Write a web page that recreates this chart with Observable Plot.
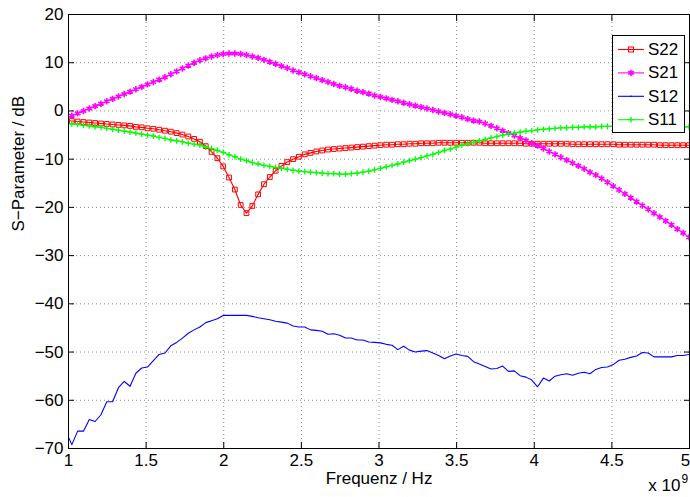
<!DOCTYPE html>
<html>
<head>
<meta charset="utf-8">
<script src="https://cdn.jsdelivr.net/npm/d3@7"></script>
<script src="https://cdn.jsdelivr.net/npm/@observablehq/plot@0.6"></script>
<style>
  html, body { margin: 0; padding: 0; background: #fff; }
  #wrap { position: relative; width: 690px; height: 497px; overflow: hidden;
          font-family: "Liberation Sans", Arial, Helvetica, sans-serif; }
  #legend { position: absolute; left: 612px; top: 35px; }
</style>
</head>
<body>
<div id="wrap"></div>
<script>
// Frequency sweep points (GHz; the axis is labelled in units of 10^9 Hz)
const freqGHz = [
  0.984,1.0215,1.059,1.0965,1.134,1.1715,1.209,1.2465,1.284,1.3215,
  1.359,1.3965,1.434,1.4715,1.509,1.5465,1.584,1.6215,1.659,1.6965,
  1.734,1.7715,1.809,1.8465,1.884,1.9215,1.959,1.9965,2.034,2.0715,
  2.109,2.1465,2.184,2.2215,2.259,2.2965,2.334,2.3715,2.409,2.4465,
  2.484,2.5215,2.559,2.5965,2.634,2.6715,2.709,2.7465,2.784,2.8215,
  2.859,2.8965,2.934,2.9715,3.009,3.0465,3.084,3.1215,3.159,3.1965,
  3.234,3.2715,3.309,3.3465,3.384,3.4215,3.459,3.4965,3.534,3.5715,
  3.609,3.6465,3.684,3.7215,3.759,3.7965,3.834,3.8715,3.909,3.9465,
  3.984,4.0215,4.059,4.0965,4.134,4.1715,4.209,4.2465,4.284,4.3215,
  4.359,4.3965,4.434,4.4715,4.509,4.5465,4.584,4.6215,4.659,4.6965,
  4.734,4.7715,4.809,4.8465,4.884,4.9215,4.959,4.9965,5.034
];

const s22 = [
  -2.0,-2.1,-2.2,-2.3,-2.4,-2.5,-2.6,-2.7,-2.8,-2.9,
  -3.0,-3.1,-3.3,-3.4,-3.6,-3.7,-3.9,-4.1,-4.3,-4.6,
  -4.9,-5.3,-5.8,-6.4,-7.3,-8.5,-9.8,-11.5,-13.8,-16.3,
  -19.5,-21.2,-19.7,-17.3,-15.2,-13.7,-12.4,-11.4,-10.6,-10.0,
  -9.5,-9.0,-8.7,-8.4,-8.2,-8.0,-7.9,-7.8,-7.7,-7.6,
  -7.5,-7.4,-7.3,-7.2,-7.1,-7.0,-7.0,-6.9,-6.9,-6.8,
  -6.8,-6.7,-6.7,-6.7,-6.6,-6.6,-6.6,-6.6,-6.6,-6.6,
  -6.6,-6.6,-6.7,-6.7,-6.7,-6.7,-6.7,-6.7,-6.7,-6.8,
  -6.8,-6.8,-6.8,-6.8,-6.8,-6.8,-6.8,-6.9,-6.9,-6.9,
  -6.9,-6.9,-6.9,-6.9,-6.9,-7.0,-7.0,-7.0,-7.0,-7.0,
  -7.0,-7.0,-7.1,-7.1,-7.1,-7.1,-7.1,-7.1,-7.1
];

const s21 = [
  -1.5,-1.0,-0.5,0.0,0.5,1.0,1.5,2.0,2.5,3.0,
  3.5,4.0,4.5,5.0,5.5,6.0,6.5,7.0,7.6,8.2,
  8.8,9.4,10.0,10.5,10.9,11.3,11.6,11.8,11.9,11.9,
  11.8,11.6,11.3,11.0,10.6,10.2,9.8,9.3,8.9,8.4,
  8.0,7.6,7.2,6.8,6.4,6.0,5.6,5.2,4.9,4.6,
  4.2,3.9,3.6,3.2,2.9,2.6,2.3,2.0,1.7,1.4,
  1.1,0.8,0.5,0.2,-0.1,-0.4,-0.7,-1.0,-1.3,-1.7,
  -2.0,-2.2,-2.6,-3.1,-3.6,-4.1,-4.6,-5.1,-5.6,-6.1,
  -6.7,-7.2,-7.8,-8.4,-9.0,-9.6,-10.2,-10.8,-11.4,-12.0,
  -12.7,-13.3,-14.0,-14.8,-15.6,-16.4,-17.2,-18.0,-18.8,-19.6,
  -20.4,-21.2,-22.0,-22.8,-23.6,-24.5,-25.3,-26.2,-27.0
];

const s12 = [
  -66.5,-69.2,-66.4,-66.4,-64.0,-64.4,-63.0,-60.3,-60.3,-57.4,
  -56.1,-57.1,-54.4,-53.3,-53.1,-51.8,-50.5,-50.2,-48.7,-48.0,
  -47.1,-46.1,-45.4,-44.8,-43.9,-43.5,-43.1,-42.4,-42.4,-42.4,
  -42.4,-42.4,-42.6,-42.9,-43.1,-43.3,-43.6,-43.8,-44.0,-44.6,
  -44.8,-44.8,-45.4,-45.5,-45.7,-46.3,-46.2,-46.5,-47.1,-47.1,
  -47.5,-47.5,-47.9,-48.0,-48.1,-48.4,-48.6,-49.5,-48.8,-49.6,
  -50.0,-49.8,-49.7,-50.2,-50.7,-51.4,-50.8,-50.4,-50.7,-50.9,
  -52.0,-52.5,-53.0,-53.5,-53.4,-52.9,-54.0,-53.9,-54.9,-55.2,
  -55.8,-57.2,-55.4,-56.0,-55.0,-54.7,-54.5,-54.8,-54.4,-54.2,
  -54.5,-53.6,-53.2,-53.1,-52.6,-51.7,-51.5,-51.1,-50.8,-50.1,
  -50.2,-51.0,-51.0,-51.0,-51.0,-50.7,-50.7,-50.5,-50.4
];

const s11 = [
  -2.5,-2.7,-2.8,-3.0,-3.1,-3.3,-3.4,-3.6,-3.8,-4.0,
  -4.2,-4.4,-4.6,-4.8,-5.0,-5.2,-5.5,-5.7,-6.0,-6.2,
  -6.4,-6.7,-6.9,-7.1,-7.5,-7.8,-8.2,-8.6,-9.1,-9.5,
  -10.0,-10.3,-10.7,-11.0,-11.3,-11.5,-11.7,-11.9,-12.1,-12.3,
  -12.5,-12.6,-12.7,-12.8,-12.9,-13.0,-13.0,-13.1,-13.1,-13.0,
  -12.9,-12.7,-12.5,-12.2,-11.9,-11.6,-11.3,-11.0,-10.6,-10.3,
  -10.0,-9.7,-9.3,-9.0,-8.6,-8.2,-7.9,-7.5,-7.1,-6.8,
  -6.5,-6.2,-5.9,-5.6,-5.3,-5.0,-4.8,-4.6,-4.4,-4.2,
  -4.1,-3.9,-3.8,-3.7,-3.6,-3.5,-3.5,-3.4,-3.4,-3.3,
  -3.3,-3.3,-3.2,-3.2,-3.2,-3.2,-3.2,-3.2,-3.2,-3.2,
  -3.2,-3.2,-3.2,-3.3,-3.3,-3.3,-3.3,-3.3,-3.3
];

const seriesNames = ["S22", "S21", "S12", "S11"];
const seriesColors = ["#ff0000", "#ff00ff", "#0000ff", "#00ff00"];
const seriesSymbols = ["square", "asterisk", null, "plus"];
const seriesValues = [s22, s21, s12, s11];

const xTicks = [1, 1.5, 2, 2.5, 3, 3.5, 4, 4.5, 5];
const yTicks = [-70, -60, -50, -40, -30, -20, -10, 0, 10, 20];
const xLabel = "Frequenz / Hz";
const yLabel = "S\u2212Parameter / dB";
const xExponentBase = "x 10";
const xExponent = "9";

const fmtY = d => (d < 0 ? "\u2212" + Math.abs(d) : String(d));

const seriesMarks = seriesNames.flatMap((name, s) => {
  const data = freqGHz.map((f, i) => ({f, v: seriesValues[s][i]}));
  const marks = [Plot.line(data, {x: "f", y: "v", stroke: seriesColors[s], strokeWidth: 1.1, clip: true})];
  const sym = seriesSymbols[s];
  if (sym === "square") marks.push(Plot.dot(data, {x: "f", y: "v", symbol: "square", r: 2.7, fill: "none", stroke: seriesColors[s], strokeWidth: 1, clip: true}));
  else if (sym === "asterisk") marks.push(Plot.dot(data, {x: "f", y: "v", symbol: "asterisk", r: 3, stroke: seriesColors[s], strokeWidth: 1.6, clip: true}));
  else if (sym === "plus") marks.push(Plot.dot(data, {x: "f", y: "v", symbol: "plus", r: 2.0, stroke: seriesColors[s], strokeWidth: 1.3, clip: true}));
  return marks;
});

const gridStyle = {stroke: "#000", strokeOpacity: 0.45, strokeDasharray: "1,3"};
const xTicksInner = xTicks.slice(0, -1);
const xTickLast = xTicks.slice(-1);

const plot = Plot.plot({
  width: 690,
  height: 497,
  marginLeft: 68,
  marginRight: 1,
  marginTop: 14,
  marginBottom: 49,
  x: {domain: [1, 5]},
  y: {domain: [-70, 20]},
  style: {fontFamily: "'Liberation Sans', Arial, Helvetica, sans-serif", fontSize: "17px", color: "#000", background: "#fff"},
  marks: [
    Plot.gridX(xTicks, gridStyle),
    Plot.gridY(yTicks, gridStyle),
    ...seriesMarks,
    Plot.frame({stroke: "#000", strokeWidth: 1}),
    Plot.axisX(xTicksInner, {tickSize: 0, tickPadding: 5, tickFormat: d => String(d), label: null}),
    Plot.axisX(xTickLast, {tickSize: 0, tickPadding: 5, tickFormat: d => String(d), label: null, dx: -4}),
    Plot.axisX(xTicks, {tickSize: -6, fill: "none", label: null}),
    Plot.axisX(xTicks, {anchor: "top", tickSize: -6, fill: "none", label: null}),
    Plot.axisY(yTicks, {tickSize: 0, tickPadding: 5, tickFormat: fmtY, label: null}),
    Plot.axisY(yTicks, {tickSize: -6, fill: "none", label: null}),
    Plot.axisY(yTicks, {anchor: "right", tickSize: -6, fill: "none", label: null}),
    Plot.text([xLabel], {text: d => d, frameAnchor: "bottom", dy: 35}),
    Plot.text([yLabel], {text: d => d, frameAnchor: "left", rotate: -90, dx: -50}),
    Plot.text([xExponentBase], {text: d => d, frameAnchor: "bottom-right", textAnchor: "end", dx: -9, dy: 42}),
    Plot.text([xExponent], {text: d => d, frameAnchor: "bottom-right", textAnchor: "start", dx: -8, dy: 34, fontSize: 12})
  ]
});

const wrap = document.getElementById("wrap");
wrap.appendChild(plot);

// Legend box (MATLAB style), drawn over the plot area
const lg = d3.select(wrap).append("svg")
  .attr("id", "legend")
  .attr("width", 74).attr("height", 99)
  .style("font-family", "'Liberation Sans', Arial, Helvetica, sans-serif")
  .style("font-size", "17px");
lg.append("rect").attr("x", 0.5).attr("y", 0.5).attr("width", 72).attr("height", 97)
  .attr("fill", "#fff").attr("stroke", "#000").attr("stroke-width", 1);
seriesNames.forEach((name, s) => {
  const cy = 14 + s * 23.4;
  const g = lg.append("g").attr("transform", `translate(0,${cy})`);
  g.append("line").attr("x1", 6).attr("x2", 32).attr("y1", 0.5).attr("y2", 0.5)
    .attr("stroke", seriesColors[s]).attr("stroke-width", 1.1);
  const sym = seriesSymbols[s];
  if (sym === "square") {
    g.append("rect").attr("x", 16.5).attr("y", -2).attr("width", 5).attr("height", 5)
      .attr("fill", "none").attr("stroke", seriesColors[s]);
  } else if (sym === "asterisk") {
    g.append("path").attr("d", d3.symbol(d3.symbolAsterisk, Math.PI * 9)()).attr("transform", "translate(19,0.5)")
      .attr("fill", "none").attr("stroke", seriesColors[s]).attr("stroke-width", 1.6);
  } else if (sym === "plus") {
    g.append("path").attr("d", d3.symbol(d3.symbolPlus, Math.PI * 4)()).attr("transform", "translate(19,0.5)")
      .attr("fill", "none").attr("stroke", seriesColors[s]).attr("stroke-width", 1.3);
  } else {
    g.append("circle").attr("cx", 19).attr("cy", 0.5).attr("r", 0.8).attr("fill", seriesColors[s]);
  }
  g.append("text").attr("x", 36).attr("y", 0).attr("dy", "0.35em").attr("fill", "#000").text(name);
});
</script>
</body>
</html>
